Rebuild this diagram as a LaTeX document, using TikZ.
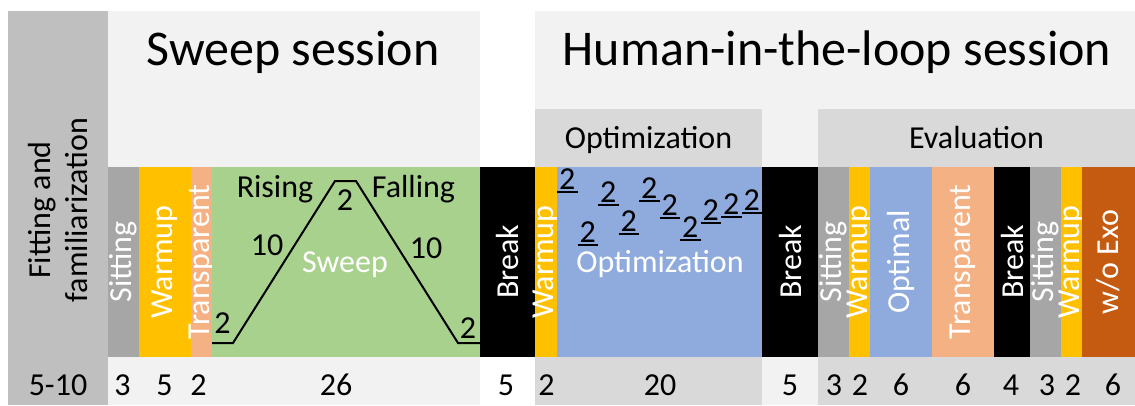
\documentclass[tikz,border=0pt]{standalone}
\usepackage{fontspec}
\setmainfont{Carlito}
\definecolor{panelgray}{HTML}{BFBFBF}
\definecolor{lightbg}{HTML}{F2F2F2}
\definecolor{headgray}{HTML}{D9D9D9}
\definecolor{sitgray}{HTML}{A6A6A6}
\definecolor{warm}{HTML}{FFC000}
\definecolor{transp}{HTML}{F4B183}
\definecolor{sweepgreen}{HTML}{A9D18E}
\definecolor{optblue}{HTML}{8FAADC}
\definecolor{exo}{HTML}{C55A11}
\newcommand\fs[1]{\fontsize{#1}{#1}\selectfont}
\newcommand\vseg[5]{\fill[#3] (#1,167) rectangle (#2,357);
  \node[vlab] (#5) at ({(#1+#2)/2},262) {#4};}
\begin{document}
\begin{tikzpicture}[x=1pt,y=-1pt,
  vlab/.style={rotate=90,text=white,font=\fs{32},inner sep=0pt},
  txt/.style={font=\fs{32},inner sep=0pt,anchor=base},
  ttl/.style={font=\fs{50},inner sep=0pt,anchor=base},
  small/.style={font=\fs{32},inner sep=0pt,anchor=base},
  prof/.style={line width=2pt,line join=miter},
  uline/.style={line width=2pt}]
\useasboundingbox (0,0) rectangle (1135,405);
\fill[white] (0,0) rectangle (1135,405);
% backgrounds
\fill[panelgray] (8,11) rectangle (108,405);
\fill[lightbg] (108,11) rectangle (480,405);
\fill[lightbg] (535,11) rectangle (1135,405);
\fill[headgray] (535,109) rectangle (762,167);
\fill[headgray] (818,109) rectangle (1135,167);
\fill[headgray] (535,357) rectangle (762,405);
\fill[headgray] (818,357) rectangle (1135,405);
% titles
\node[ttl] (t1) at (293,65) {Sweep session};
\node[ttl] (t2) at (837,65) {Human-in-the-loop session};
\node[txt] (h1) at (648.5,148) {Optimization};
\node[txt] (h2) at (976.5,148) {Evaluation};
\node[rotate=90,font=\fontsize{32}{37}\selectfont,align=center,inner sep=0pt] (fit) at (58,210) {Fitting and\\familiarization};
% bars
\vseg{108}{139}{sitgray}{Sitting}{s1}
\vseg{139}{191}{warm}{Warmup}{w1}
\vseg{191}{212}{transp}{Transparent}{tr1}
\fill[sweepgreen] (212,167) rectangle (480,357);
\vseg{480}{535}{black}{Break}{b1}
\vseg{535}{557}{warm}{Warmup}{w2}
\fill[optblue] (557,167) rectangle (762,357);
\vseg{762}{818}{black}{Break}{b2}
\vseg{818}{849}{sitgray}{Sitting}{s2}
\vseg{849}{870}{warm}{Warmup}{w3}
\vseg{870}{932}{optblue}{Optimal}{op}
\vseg{932}{994}{transp}{Transparent}{tr2}
\vseg{994}{1030}{black}{Break}{b3}
\vseg{1030}{1061}{sitgray}{Sitting}{s3}
\vseg{1061}{1082}{warm}{Warmup}{w4}
\vseg{1082}{1135}{exo}{w/o Exo}{wo}
% sweep profile
\coordinate (p0) at (212,343);
\coordinate (p1) at (233,343);
\coordinate (p2) at (335,181);
\coordinate (p3) at (356,181);
\coordinate (p4) at (458,343);
\coordinate (p5) at (480,343);
\draw[prof] (p0) -- (p1) -- (p2) -- (p3) -- (p4) -- (p5);
\node[txt] (ris) at (275,197) {Rising};
\node[txt] (fal) at (413.5,197) {Falling};
\node[txt] (top2) at (345,210) {2};
\node[txt] (r10) at (267,255) {10};
\node[txt] (f10) at (426,258) {10};
\node[txt] (bl2) at (222.5,333) {2};
\node[txt] (br2) at (468,338) {2};
\node[txt,text=white] (swp) at (345,272) {Sweep};
\node[txt,text=white] (optl) at (660,272) {Optimization};
% optimization steps
\foreach \i/\u in {1/192,2/245,3/205,4/234,5/201,6/218,7/240,8/223,9/217,10/213}{
  \pgfmathsetmacro\xa{557+20.5*(\i-1)}
  \pgfmathsetmacro\xb{557+20.5*\i}
  \pgfmathsetmacro\xc{557+20.5*(\i-0.5)}
  \node[small] (o\i) at (\xc,\u-3) {2};
  \draw[uline] (\xa,\u) -- (\xb,\u);
}
% durations
\node[txt] (d0) at (58,395) {5-10};
\node[txt] (d1) at (122.5,395) {3};
\node[txt] (d2) at (164.5,395) {5};
\node[txt] (d3) at (198.5,395) {2};
\node[txt] (d4) at (336,395) {26};
\node[txt] (d5) at (506,395) {5};
\node[txt] (d6) at (546.5,395) {2};
\node[txt] (d7) at (660,395) {20};
\node[txt] (d8) at (790,395) {5};
\node[txt] (d9) at (834,395) {3};
\node[txt] (d10) at (860,395) {2};
\node[txt] (d11) at (901,395) {6};
\node[txt] (d12) at (963,395) {6};
\node[txt] (d13) at (1011,395) {4};
\node[txt] (d14) at (1047,395) {3};
\node[txt] (d15) at (1073,395) {2};
\node[txt] (d16) at (1113,395) {6};
\end{tikzpicture}
\end{document}
